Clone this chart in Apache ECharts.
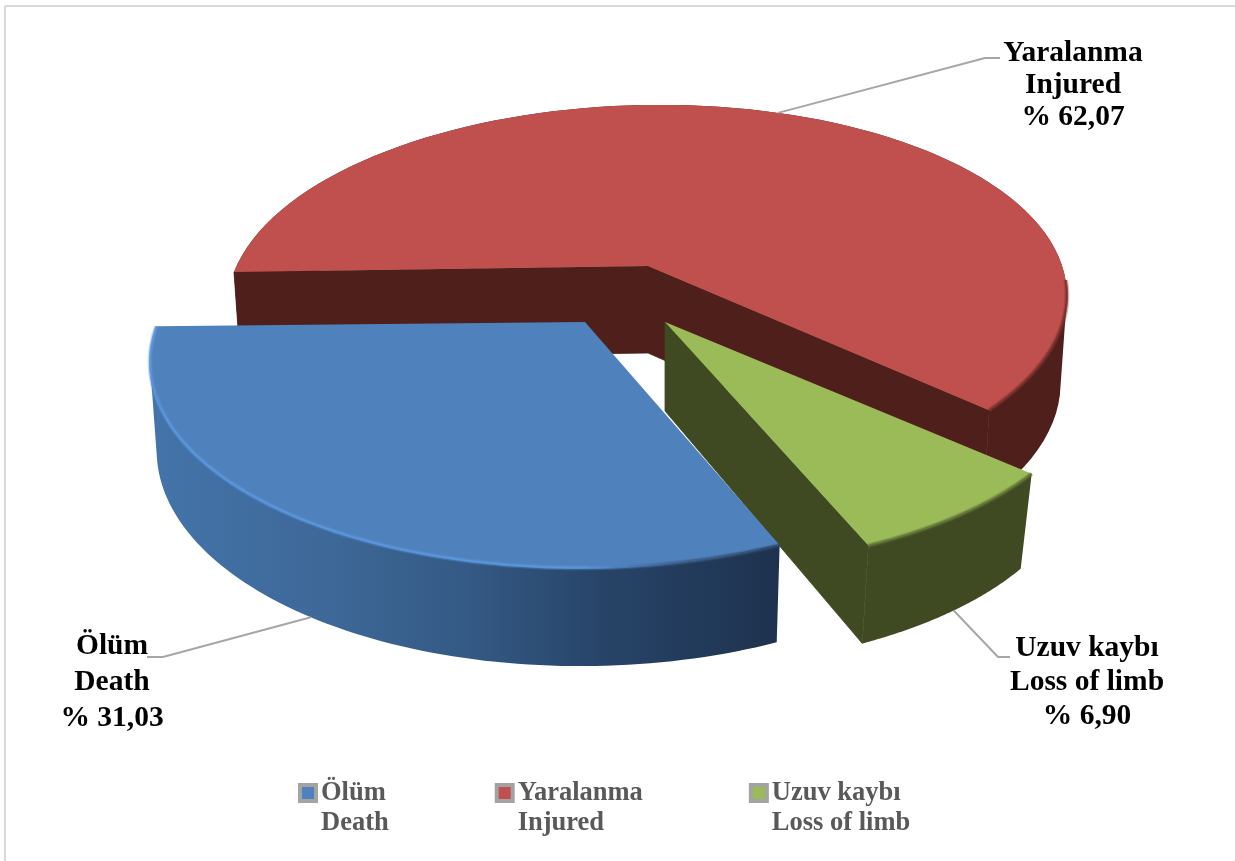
<!DOCTYPE html>
<html><head><meta charset="utf-8">
<style>html,body{margin:0;padding:0;background:#fff}#c{width:1235px;height:861px}</style>
<script src="https://cdn.jsdelivr.net/npm/echarts@6/dist/echarts.min.js"></script>
</head><body><div id="c"></div>
<script>
const categories = ['Ölüm', 'Yaralanma', 'Uzuv kaybı'];
const categoriesEn = ['Death', 'Injured', 'Loss of limb'];
const values = [31.03, 62.07, 6.90];
const valueLabels = ['% 31,03', '% 62,07', '% 6,90'];
const topColors = ['#4f81bd', '#c0504d', '#9bbb59'];
const sideColors = ['#2f4d77', '#4e1f1b', '#3f4a22'];

// layout of the perspective drawing (not data)
const firstAngle = 68.3;
const layouts = [
  {cx:585, cy:322, ox:4.5, R:433, ry:204, p:0.17, shear:-0.010, s:0.985, d0:86, k:0.05, walls:[]},
  {cx:648, cy:266, ox:-1, R:413, ry:190, p:0.18, shear:-0.0145, s:0.985, d0:87, k:0.03, walls:[0, 1]},
  {cx:665, cy:322, ox:-1, R:409, ry:178, p:0.28, shear:0, s:0.97, d0:89, k:0.04, walls:[1]}
];
const labelLayouts = [
  {x:112, y:680, lh:36, elbow:[[163,657],[147,657]], onBottom:true},
  {x:1073, y:83, lh:32, elbow:[[985,58],[1000,58]], onBottom:false},
  {x:1087, y:680, lh:34, elbow:[[998,657],[1010,657]], onBottom:true}
];
const total = values.reduce((a, b) => a + b, 0);
const spans = [];
let acc = firstAngle;
values.forEach(v => { const sw = v / total * 360; spans.push([acc, acc + sw]); acc += sw; });

function project(L, deg) {
  const t = deg * Math.PI / 180, u = Math.cos(t), v = Math.sin(t);
  const w = 1 / (1 - L.p * v);
  const dx = L.R * u * w;
  return [L.cx + L.ox + dx, L.cy + L.ry * v * w + L.shear * dx];
}
function lower(L, P) {
  return [L.cx + (P[0] - L.cx) * L.s, P[1] + L.d0 + L.k * (P[1] - L.cy)];
}
function rim(L, a0, a1, n) {
  const pts = [];
  for (let i = 0; i <= n; i++) pts.push(project(L, a0 + (a1 - a0) * i / n));
  return pts;
}
function sideFill(i) {
  if (i !== 0) return sideColors[i];
  return {type:'linear', x:150, y:0, x2:780, y2:0, global:true, colorStops:[
    {offset:0, color:'#4474aa'}, {offset:0.3, color:'#3d6796'},
    {offset:0.5, color:'#345a85'}, {offset:0.72, color:'#274468'}, {offset:1, color:'#1e324e'}]};
}
function rimStroke(i) {
  if (i === 0) return {type:'linear', x:150, y:0, x2:780, y2:0, global:true, colorStops:[
    {offset:0, color:'#5a96dc'}, {offset:0.68, color:'#5a96dc'}, {offset:0.82, color:'#3f6594'}, {offset:1, color:'#2a4566'}]};
  return i === 1 ? '#7a2f2c' : '#5f7335';
}
// outer wall of the slice as one seamless path of same-winding quads
function sidePath(top, bot) {
  let d = '';
  for (let k = 0; k < top.length - 1; k++) {
    let q = [top[k], top[k + 1], bot[k + 1], bot[k]];
    let area = 0;
    q.forEach((P, j) => { const N = q[(j + 1) % 4]; area += P[0] * N[1] - N[0] * P[1]; });
    if (area < 0) q = q.slice().reverse();
    d += 'M' + q.map(P => P[0].toFixed(2) + ' ' + P[1].toFixed(2)).join('L') + 'Z';
  }
  return d;
}

function renderSlice(i) {
  return function () {
    const L = layouts[i], a0 = spans[i][0], a1 = spans[i][1];
    const top = rim(L, a0, a1, 90);
    const bot = top.map(P => lower(L, P));
    const c = [L.cx, L.cy], cb = lower(L, c);
    const kids = [];
    kids.push({type:'path', shape:{pathData:sidePath(top, bot)}, style:{fill:sideFill(i)}});
    L.walls.forEach(w => {
      const e = w === 0 ? 0 : top.length - 1;
      kids.push({type:'polygon', shape:{points:[c, top[e], bot[e], cb]},
        style:{fill:sideColors[i], stroke:sideColors[i], lineWidth:0.8}});
    });
    kids.push({type:'polygon', shape:{points:[c].concat(top)}, style:{fill:topColors[i]}});
    // soft bevel along the front edge of the top face
    const front = rim(L, i === 1 ? 366 : a0, a1, 80);
    kids.push({type:'polyline', shape:{points:front}, style:{fill:null, stroke:rimStroke(i), lineWidth:5, opacity:0.3}});
    kids.push({type:'polyline', shape:{points:front}, style:{fill:null, stroke:rimStroke(i), lineWidth:2.5, opacity:0.85}});

    const mid = (a0 + a1) / 2;
    const T = project(L, mid), lab = labelLayouts[i];
    const anchor = lab.onBottom ? lower(L, T) : T;
    kids.push({type:'polyline', z2:5, shape:{points:[anchor].concat(lab.elbow)},
      style:{fill:null, stroke:'#a6a6a6', lineWidth:2}});
    [categories[i], categoriesEn[i], valueLabels[i]].forEach((t, j) => {
      kids.push({type:'text', z2:6, x:lab.x, y:lab.y + 2 + (j - 1) * lab.lh, style:{
        text:t, fill:'#000', font:'bold 29.5px "Liberation Serif"', align:'center', verticalAlign:'middle'}});
    });
    return {type:'group', children:kids};
  };
}

const legendNames = categories.map((c, i) => c + '\n' + categoriesEn[i]);
const chart = echarts.init(document.getElementById('c'), null, {renderer:'canvas'});
chart.setOption({
  animation:false,
  backgroundColor:'#fff',
  tooltip:{show:false},
  legend:{
    left:298, top:748, padding:0, itemWidth:16, itemHeight:16, itemGap:106, orient:'horizontal',
    selectedMode:false,
    formatter:n => ' \n' + n,
    textStyle:{fontFamily:'Liberation Serif', fontWeight:'bold', fontSize:26.5, color:'#595959', lineHeight:30},
    data:legendNames.map((n, i) => ({name:n, icon:'rect',
      itemStyle:{color:topColors[i], borderColor:'#a3a3a3', borderWidth:4}}))
  },
  graphic:[
    {type:'line', shape:{x1:5, y1:6, x2:1235, y2:6}, style:{stroke:'#d9d9d9', lineWidth:2}},
    {type:'line', shape:{x1:5, y1:6, x2:5, y2:861}, style:{stroke:'#d9d9d9', lineWidth:2}}
  ],
  series:[1, 2, 0].map(i => ({
    type:'custom', name:legendNames[i], coordinateSystem:'none',
    itemStyle:{color:topColors[i]},
    data:[[values[i]]],
    silent:true,
    renderItem:renderSlice(i)
  }))
});
</script></body></html>
